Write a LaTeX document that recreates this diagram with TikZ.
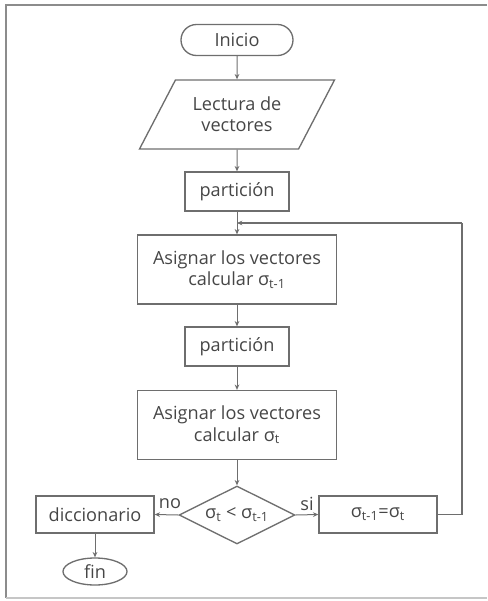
\documentclass[tikz,border=0pt]{standalone}
\usepackage{fontspec}
\setmainfont{Open Sans}
\usetikzlibrary{shapes.geometric,arrows.meta}

\definecolor{linegray}{RGB}{110,110,110}
\definecolor{textgray}{RGB}{70,70,70}
\definecolor{framegray}{RGB}{140,140,140}

\tikzset{every picture/.style={line width=0.75pt}}
\tikzset{
  boxstyle/.style={draw=linegray,line width=1pt,text=textgray,align=center,inner sep=2pt},
  arr/.style={draw=linegray,-{Stealth[length=4pt,width=3.5pt]}},
  lbl/.style={text=textgray}
}

\begin{document}
\begin{tikzpicture}[x=0.75pt,y=0.75pt,yscale=-1,xscale=1,font=\fontsize{13.6}{16}\selectfont]
	\useasboundingbox (0,0) rectangle (487,601);

	%Frame
	\draw [framegray,line width=1.5pt] (487,5) -- (6,5) -- (6,598) ;
	\draw [framegray!50,line width=1pt] (6,598) -- (487,598) ;

	% Terminal
	\node [boxstyle,rounded corners=11.6pt,minimum width=84pt,minimum height=23.25pt] (inicio) at (237,40) {Inicio};
	% Input
	\node [boxstyle,trapezium,trapezium left angle=48.5,trapezium right angle=131.5,trapezium stretches body,minimum width=146.25pt,minimum height=51.75pt] (lectura) at (237,114.5) {Lectura de\\vectores};
	% Processes
	\node [boxstyle,minimum width=78pt,minimum height=29.25pt] (part1) at (237,191.5) {partición};
	\node [boxstyle,minimum width=149.25pt,minimum height=51.75pt] (asig1) at (237,269.5) {Asignar los vectores\\calcular σ\textsubscript{t-1}};
	\node [boxstyle,minimum width=78pt,minimum height=29.25pt] (part2) at (237,346.5) {partición};
	\node [boxstyle,minimum width=149.25pt,minimum height=51.75pt] (asig2) at (237,425) {Asignar los vectores\\calcular σ\textsubscript{t}};
	% Decision
	\node [boxstyle,diamond,aspect=2,inner sep=0pt,minimum width=87pt,minimum height=43.5pt] (cond) at (237,515) {σ\textsubscript{t} < σ\textsubscript{t-1}};
	\node [boxstyle,minimum width=88.5pt,minimum height=27.75pt] (dicc) at (95,514.5) {diccionario};
	\node [boxstyle,minimum width=88.5pt,minimum height=27.75pt] (upd) at (378,514.5) {σ\textsubscript{t-1}=σ\textsubscript{t}};
	\node [boxstyle,ellipse,inner sep=0pt,minimum width=48pt,minimum height=20.25pt] (fin) at (95,571.5) {fin};

	\coordinate (corner) at (462,223);
	\coordinate (join) at (237,223);

	% Connectors
	\draw [arr] (inicio) -- (lectura) ;
	\draw [arr] (lectura) -- (part1) ;
	\draw [arr] (part1) -- (asig1) ;
	\draw [arr] (asig1) -- (part2) ;
	\draw [arr] (part2) -- (asig2) ;
	\draw [arr] (asig2) -- (cond) ;
	\draw [arr] (cond.west) -- (dicc.east) ;
	\draw [arr] (cond.east) -- (upd.west) ;
	\draw [arr] (dicc) -- (fin) ;
	\draw [linegray,line width=1pt] (upd.east) -| (corner) ;
	\draw [arr,line width=1pt] (corner) -- (join) ;

	% Text Node
	\node [lbl] (nolbl) at (170,504) {no};
	% Text Node
	\node [lbl] (silbl) at (307,504) {si};

\end{tikzpicture}
\end{document}
